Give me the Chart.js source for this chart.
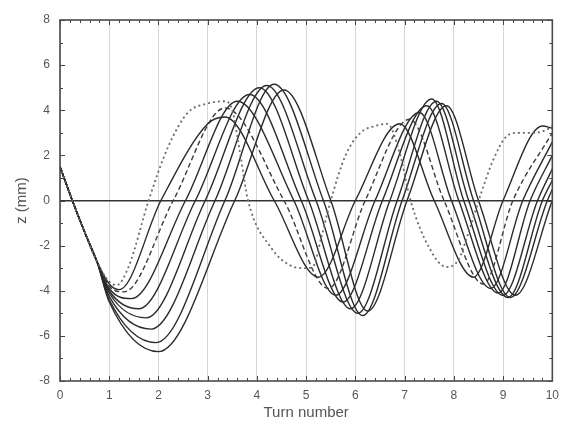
<!DOCTYPE html>
<html>
<head>
<meta charset="utf-8">
<script src="https://cdn.jsdelivr.net/npm/chart.js@4.4.1/dist/chart.umd.min.js"></script>
<style>
  html, body { margin: 0; padding: 0; background: #fff; }
  #wrap { width: 566px; height: 423px; }
</style>
</head>
<body>
<div id="wrap"><canvas id="chart" width="566" height="423"></canvas></div>
<script>
// turn number / z (mm) traced per curve, earliest phase first
const dottedX = [0, 0.25, 0.5, 0.75, 1.0, 1.15, 1.4, 1.8, 2.2, 2.6, 3.0, 3.35, 3.5, 3.65, 3.82, 4.29, 4.7, 5.0, 5.15, 5.3, 5.5, 5.8, 6.1, 6.4, 6.65, 6.9, 7.12, 7.5, 7.85, 8.1, 8.3, 8.55, 8.8, 9.05, 9.3, 9.6, 9.85, 10];
const dottedY = [1.5, 0, -1.4, -2.7, -3.6, -3.75, -2.9, 0, 2.4, 3.9, 4.3, 4.4, 4.0, 2.2, 0, -2.1, -2.9, -3.0, -2.9, -1.7, 0, 2.0, 3.0, 3.3, 3.4, 2.1, 0, -2.1, -2.95, -2.6, -1.4, 0.3, 1.8, 2.8, 3.0, 3.0, 3.1, 3.3];

const curve1X = [0, 0.25, 0.5, 0.75, 1.0, 1.2, 2.05, 3.0, 3.35, 4.35, 5.25, 6.0, 6.9, 7.6, 8.4, 9.0, 9.8, 10];
const curve1Y = [1.5, 0, -1.4, -2.7, -3.7, -3.95, 0, 3.4, 3.7, 0, -3.4, 0, 3.4, 0, -3.4, 0, 3.3, 3.2];

const dashedX = [0, 0.25, 0.5, 0.75, 1.0, 1.3, 2.3, 3.35, 4.55, 5.45, 6.2, 7.1, 7.8, 8.6, 9.2, 10];
const dashedY = [1.5, 0, -1.4, -2.7, -3.8, -4.05, 0, 4.1, 0, -3.9, 0, 3.6, 0, -3.7, 0, 3.0];

const curve3X = [0, 0.25, 0.5, 0.75, 1.0, 1.45, 2.55, 3.6, 4.75, 5.6, 6.4, 7.3, 7.95, 8.75, 9.4, 10];
const curve3Y = [1.5, 0, -1.4, -2.7, -3.9, -4.35, 0, 4.4, 0, -4.2, 0, 3.9, 0, -3.9, 0, 2.6];

const curve4X = [0, 0.25, 0.5, 0.75, 1.0, 1.6, 2.75, 3.85, 4.9, 5.75, 6.55, 7.45, 8.1, 8.9, 9.55, 10];
const curve4Y = [1.5, 0, -1.4, -2.7, -4.0, -4.8, 0, 4.7, 0, -4.5, 0, 4.2, 0, -4.1, 0, 2.0];

const curve5X = [0, 0.25, 0.5, 0.75, 1.0, 1.75, 2.95, 4.05, 5.05, 5.9, 6.7, 7.55, 8.2, 9.0, 9.7, 10];
const curve5Y = [1.5, 0, -1.4, -2.7, -4.1, -5.2, 0, 5.0, 0, -4.8, 0, 4.5, 0, -4.2, 0, 1.4];

const curve6X = [0, 0.25, 0.5, 0.75, 1.0, 1.85, 3.15, 4.2, 5.2, 6.05, 6.85, 7.65, 8.3, 9.1, 9.8, 10];
const curve6Y = [1.5, 0, -1.4, -2.7, -4.25, -5.7, 0, 5.1, 0, -5.0, 0, 4.4, 0, -4.3, 0, 0.9];

const curve7X = [0, 0.25, 0.5, 0.75, 1.0, 1.95, 3.35, 4.35, 5.35, 6.15, 6.95, 7.75, 8.4, 9.15, 9.9, 10];
const curve7Y = [1.5, 0, -1.4, -2.7, -4.4, -6.3, 0, 5.15, 0, -5.1, 0, 4.3, 0, -4.3, 0, 0.5];

const curve8X = [0, 0.25, 0.5, 0.75, 1.0, 2.0, 3.55, 4.55, 5.5, 6.25, 7.05, 7.85, 8.5, 9.25, 10];
const curve8Y = [1.5, 0, -1.4, -2.7, -4.5, -6.7, 0, 4.9, 0, -4.9, 0, 4.2, 0, -4.2, 0];

const xTicks = [0, 1, 2, 3, 4, 5, 6, 7, 8, 9, 10];
const yTicks = [-8, -6, -4, -2, 0, 2, 4, 6, 8];

const toPoints = (xs, ys) => xs.map((x, i) => ({ x, y: ys[i] }));

const solidStyle = { borderColor: '#2b2b2b', borderWidth: 1.4 };
const series = [
    { data: toPoints(dottedX, dottedY), borderColor: '#6a6a6a', borderWidth: 1.8, borderDash: [2, 3] },
    { data: toPoints(curve1X, curve1Y), ...solidStyle },
    { data: toPoints(dashedX, dashedY), borderColor: '#3a3a3a', borderWidth: 1.4, borderDash: [5, 3] },
    { data: toPoints(curve3X, curve3Y), ...solidStyle },
    { data: toPoints(curve4X, curve4Y), ...solidStyle },
    { data: toPoints(curve5X, curve5Y), ...solidStyle },
    { data: toPoints(curve6X, curve6Y), ...solidStyle },
    { data: toPoints(curve7X, curve7Y), ...solidStyle },
    { data: toPoints(curve8X, curve8Y), ...solidStyle }
];

// box frame with inward major + minor ticks on all four sides
const frameTicks = {
    id: 'frameTicks',
    afterDatasetsDraw(chart) {
        const { ctx, chartArea: a, scales: { x, y } } = chart;
        ctx.save();
        ctx.strokeStyle = '#444';
        ctx.lineWidth = 1;
        ctx.beginPath();
        for (let v = 0; v <= 10.001; v += 0.2) {
            const px = Math.round(x.getPixelForValue(v)) + 0.5;
            const len = Math.abs(v - Math.round(v)) < 0.01 ? 5 : 3;
            ctx.moveTo(px, a.bottom); ctx.lineTo(px, a.bottom - len);
            ctx.moveTo(px, a.top); ctx.lineTo(px, a.top + len);
        }
        for (let v = -8; v <= 8; v += 1) {
            const py = Math.round(y.getPixelForValue(v)) + 0.5;
            const len = v % 2 === 0 ? 5 : 3;
            ctx.moveTo(a.left, py); ctx.lineTo(a.left + len, py);
            ctx.moveTo(a.right, py); ctx.lineTo(a.right - len, py);
        }
        ctx.stroke();
        ctx.lineWidth = 1.6;
        ctx.strokeStyle = '#4a4a4a';
        ctx.strokeRect(a.left, a.top, a.right - a.left, a.bottom - a.top);
        ctx.restore();
    }
};

const tickFont = { family: 'Liberation Sans', size: 12 };
const titleFont = { family: 'Liberation Sans', size: 15 };

new Chart(document.getElementById('chart'), {
    type: 'line',
    data: { datasets: series },
    options: {
        responsive: false,
        animation: false,
        layout: { padding: { left: 0, right: 9, top: 20, bottom: 0 } },
        elements: {
            point: { radius: 0 },
            line: { cubicInterpolationMode: 'monotone', fill: false }
        },
        plugins: { legend: { display: false }, tooltip: { enabled: false } },
        scales: {
            x: {
                type: 'linear', min: 0, max: 10,
                afterBuildTicks: s => { s.ticks = xTicks.map(v => ({ value: v })); },
                afterFit: s => { s.height = 42; },
                border: { display: false },
                grid: { color: '#d6d6d6', lineWidth: 1, drawTicks: false },
                ticks: { color: '#555', font: tickFont, padding: 7 },
                title: { display: true, text: 'Turn number', color: '#555', font: titleFont, padding: { top: 0, bottom: 1 } }
            },
            y: {
                type: 'linear', min: -8, max: 8,
                afterBuildTicks: s => { s.ticks = yTicks.map(v => ({ value: v })); },
                afterFit: s => { s.width = 60; },
                border: { display: false },
                grid: {
                    drawTicks: false,
                    lineWidth: 1.6,
                    color: c => (c.tick && c.tick.value === 0 ? '#333' : 'rgba(0,0,0,0)')
                },
                ticks: { color: '#555', font: tickFont, padding: 10 },
                title: { display: true, text: 'z (mm)', color: '#555', font: titleFont, padding: { top: 13, bottom: 0 } }
            }
        }
    },
    plugins: [frameTicks]
});
</script>
</body>
</html>
